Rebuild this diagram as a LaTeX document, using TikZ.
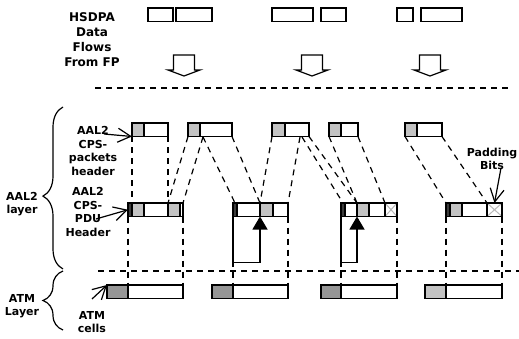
\documentclass[tikz,border=0pt]{standalone}
\usepackage{fontspec}
\setmainfont{DejaVu Sans}
\usepackage{xcolor}
\usetikzlibrary{arrows.meta,positioning,decorations.pathreplacing}

\definecolor{hdrgray}{RGB}{195,195,195}
\definecolor{cellgray}{RGB}{150,150,150}
\definecolor{stfgray}{RGB}{60,60,60}
\definecolor{padgray}{RGB}{185,185,185}

\begin{document}
\begin{tikzpicture}[
    x=1pt, y=-1pt,
    seg/.style={rectangle,draw,line width=1.2pt,minimum height=13.5pt,inner sep=0pt,outer sep=0pt,anchor=north west},
    hdr/.style={seg,fill=hdrgray},
    body/.style={seg,fill=white},
    stf/.style={seg,fill=stfgray},
    atmhdr/.style={seg,fill=cellgray},
    pad/.style={seg,fill=white,path picture={
        \draw[padgray,line width=1pt] (path picture bounding box.north west) -- (path picture bounding box.south east)
            (path picture bounding box.south west) -- (path picture bounding box.north east);}},
    lbl/.style={align=center,inner sep=0pt,font=\bfseries\fontsize{11}{13.5}\selectfont},
    map/.style={line width=1.2pt,dash pattern=on 6pt off 5pt},
    ptr/.style={line width=1.2pt,-{Triangle[length=13pt,width=15pt]}},
    note/.style={line width=1.2pt,-{Straight Barb[length=13pt,width=14pt]}},
    layerbrace/.style={line width=1.2pt,decorate,decoration={brace,amplitude=20pt}}
]
\useasboundingbox (0,0) rectangle (519,339);

% data flows from FP
\node[lbl,font=\bfseries\fontsize{12}{15}\selectfont] (hsdpa) at (92,40) {HSDPA\\Data\\Flows\\From FP};
\node[seg,minimum width=25pt] (fp1a) at (148,8) {};
\node[seg,minimum width=36pt,right=3pt of fp1a] (fp1b) {};
\node[seg,minimum width=41pt] (fp2a) at (272,8) {};
\node[seg,minimum width=25pt,right=8pt of fp2a] (fp2b) {};
\node[seg,minimum width=16pt] (fp3a) at (397,8) {};
\node[seg,minimum width=41pt,right=8pt of fp3a] (fp3b) {};
\foreach \cx in {184,312,430}
    \draw[line width=1.2pt] (\cx-10.5,55) -- (\cx-10.5,70) -- (\cx-16,70) -- (\cx,76)
        -- (\cx+16,70) -- (\cx+10.5,70) -- (\cx+10.5,55) -- cycle;

\coordinate (sepL) at (95,88);
\coordinate (sepR) at (510,88);
\draw[map] (sepL) -- (sepR);

% AAL2 CPS packets
\node[hdr,minimum width=12pt] (pk1h) at (132,123) {};
\node[body,minimum width=24pt,right=0pt of pk1h] (pk1b) {};
\node[hdr,minimum width=12pt] (pk2h) at (188,123) {};
\node[body,minimum width=32pt,right=0pt of pk2h] (pk2b) {};
\node[hdr,minimum width=13pt] (pk3h) at (272,123) {};
\node[body,minimum width=24pt,right=0pt of pk3h] (pk3b) {};
\node[hdr,minimum width=12pt] (pk4h) at (329,123) {};
\node[body,minimum width=17pt,right=0pt of pk4h] (pk4b) {};
\node[hdr,minimum width=12pt] (pk5h) at (405,123) {};
\node[body,minimum width=25pt,right=0pt of pk5h] (pk5b) {};

% AAL2 CPS-PDUs
\node[stf,minimum width=4pt] (pd1s) at (128,203) {};
\node[hdr,minimum width=12pt,right=0pt of pd1s] (pd1h) {};
\node[body,minimum width=24pt,right=0pt of pd1h] (pd1b) {};
\node[hdr,minimum width=12pt,right=0pt of pd1b] (pd1h2) {};
\node[body,minimum width=3pt,right=0pt of pd1h2] (pd1e) {};

\node[stf,minimum width=4pt] (pd2s) at (233,203) {};
\node[body,minimum width=23pt,right=0pt of pd2s] (pd2b) {};
\node[hdr,minimum width=13pt,right=0pt of pd2b] (pd2h) {};
\node[body,minimum width=15pt,right=0pt of pd2h] (pd2e) {};

\node[stf,minimum width=4pt] (pd3s) at (341,203) {};
\node[body,minimum width=12pt,right=0pt of pd3s] (pd3b) {};
\node[hdr,minimum width=12pt,right=0pt of pd3b] (pd3h) {};
\node[body,minimum width=16pt,right=0pt of pd3h] (pd3e) {};
\node[pad,minimum width=12pt,right=0pt of pd3e] (pd3p) {};

\node[stf,minimum width=4pt] (pd4s) at (446,203) {};
\node[hdr,minimum width=12pt,right=0pt of pd4s] (pd4h) {};
\node[body,minimum width=25pt,right=0pt of pd4h] (pd4b) {};
\node[pad,minimum width=15pt,right=0pt of pd4b] (pd4p) {};

% packets into PDUs
\coordinate (cut2) at (203,137);
\coordinate (cut3a) at (300,137);
\coordinate (cut3b) at (302,137);
\draw[map] (pk1h.south west) -- (pd1h.north west);
\draw[map] (pk1b.south east) -- (pd1b.north east);
\draw[map] (pk2h.south west) -- (pd1h2.north west);
\draw[map] (cut2) -- (pd1e.north east);
\draw[map] (cut2) -- (pd2s.north);
\draw[map] (pk2b.south east) -- (pd2h.north west);
\draw[map] (pk3h.south west) -- (pd2h.north west);
\draw[map] (cut3a) -- (pd2e.north east);
\draw[map] (cut3b) -- (pd3s.north);
\draw[map] (pk3b.south east) -- (pd3h.north west);
\draw[map] (pk4h.south west) -- (pd3h.north west);
\draw[map] (pk4b.south east) -- (pd3e.north east);
\draw[map] (pk5h.south west) -- (pd4s.north west);
\draw[map] (pk5b.south east) -- (pd4b.north east);

% start field pointers
\draw[ptr] (pd2s.south west) -- ++(0,46) -| (pd2h.south west);
\draw[ptr] (pd3s.south west) -- ++(0,46) -| (pd3h.south west);

\coordinate (sep2L) at (98,271);
\coordinate (sep2R) at (519,271);
\draw[map] (sep2L) -- (sep2R);

% ATM cells
\node[atmhdr,minimum width=21pt] (at1h) at (107,285) {};
\node[body,minimum width=55pt,right=0pt of at1h] (at1b) {};
\node[atmhdr,minimum width=21pt] (at2h) at (212,285) {};
\node[body,minimum width=55pt,right=0pt of at2h] (at2b) {};
\node[atmhdr,minimum width=20pt] (at3h) at (321,285) {};
\node[body,minimum width=56pt,right=0pt of at3h] (at3b) {};
\node[hdr,minimum width=21pt] (at4h) at (425,285) {};
\node[body,minimum width=56pt,right=0pt of at4h] (at4b) {};

\draw[map] (pd1s.south west) -- (at1b.north west);
\draw[map] (pd1e.south east) -- (at1b.north east);
\draw[map] (pd2s.south west) -- (at2b.north west);
\draw[map] (pd2e.south east) -- (at2b.north east);
\draw[map] (pd3s.south west) -- (at3b.north west);
\draw[map] (pd3p.south east) -- (at3b.north east);
\draw[map] (pd4s.south west) -- (at4b.north west);
\draw[map] (pd4p.south east) -- (at4b.north east);

% labels
\node[lbl] (cpslbl) at (93,151) {AAL2\\CPS-\\packets\\header};
\node[lbl] (pdulbl) at (88,212) {AAL2\\CPS-\\PDU\\Header};
\node[lbl] (celllbl) at (92,322) {ATM\\cells};
\node[lbl] (padlbl) at (492,159) {Padding\\Bits};
\node[lbl] (aallbl) at (22,204) {AAL2\\layer};
\node[lbl] (atmlbl) at (22,306) {ATM\\Layer};

\coordinate (cpstail) at (104,134);
\coordinate (pdutail) at (96,219);
\coordinate (celltail) at (92,299);
\coordinate (padtail) at (501,168);
\draw[note] (cpstail) -- (pk1h.south west);
\draw[note] (pdutail) -- (pd1s.west);
\draw[note] (celltail) -- (at1h.north west);
\draw[note] (padtail) -- (pd4p.north);

% layer braces
\coordinate (aalbot) at (63,269);
\coordinate (aaltop) at (63,107);
\coordinate (atmbot) at (63,330);
\coordinate (atmtop) at (63,271);
\draw[layerbrace,decoration={aspect=0.45}] (aalbot) -- (aaltop);
\draw[layerbrace,decoration={aspect=0.5}] (atmbot) -- (atmtop);
\end{tikzpicture}
\end{document}
